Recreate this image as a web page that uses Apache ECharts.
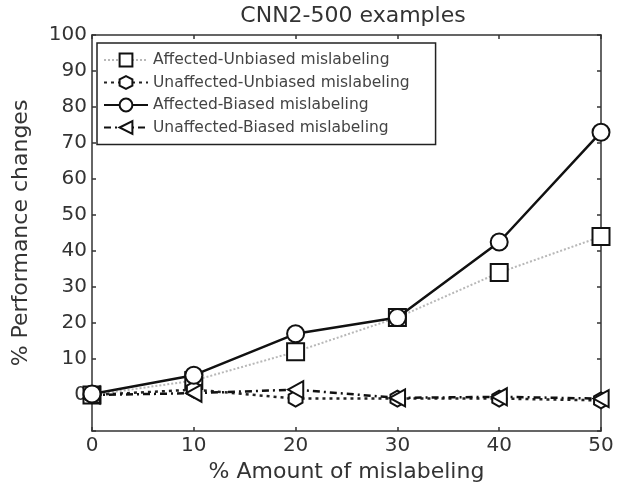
<!DOCTYPE html>
<html>
<head>
<meta charset="utf-8">
<script src="https://cdn.jsdelivr.net/npm/echarts@6/dist/echarts.min.js"></script>
<style>
  html, body { margin: 0; padding: 0; background: #fff; }
  #chart { width: 619px; height: 489px; }
</style>
</head>
<body>
<div id="chart"></div>
<script>
const mislabeling = [0, 10, 20, 30, 40, 50];
const affectedUnbiased = [0, 4, 12, 21.5, 34, 44];
const unaffectedUnbiased = [0, 1.5, -1, -1, -1, -1.5];
const affectedBiased = [0.3, 5.5, 17, 21.5, 42.5, 73];
const unaffectedBiased = [0, 0.5, 1.5, -0.8, -0.5, -1];
const seriesNames = [
  'Affected-Unbiased mislabeling',
  'Unaffected-Unbiased mislabeling',
  'Affected-Biased mislabeling',
  'Unaffected-Biased mislabeling'
];

const font = 'DejaVu Sans, sans-serif';
const hexagon = 'path://M5,0 L9.33,2.5 L9.33,7.5 L5,10 L0.67,7.5 L0.67,2.5 Z';
const triLeft = 'path://M0,5 L9,0 L9,10 Z';

function pairs(vals) {
  return mislabeling.map((x, i) => [x, vals[i]]);
}

const chart = echarts.init(document.getElementById('chart'), null, { renderer: 'canvas' });

const hollow = { color: '#fff', borderColor: '#111', borderWidth: 2 };

const axisCommon = {
  axisLine: { show: true, onZero: false, lineStyle: { color: '#333', width: 1.5 } },
  axisTick: { show: true, inside: true, length: 4, lineStyle: { color: '#333', width: 1.5 } },
  splitLine: { show: false }
};

const option = {
  backgroundColor: '#fff',
  animation: false,
  title: {
    text: 'CNN2-500 examples',
    left: 348,
    textAlign: 'center',
    top: 0,
    textStyle: { fontFamily: font, fontSize: 22, fontWeight: 'normal', color: '#333' }
  },
  legend: {
    orient: 'vertical',
    left: 97,
    top: 43,
    padding: [9, 26, 9, 6],
    itemGap: 6.5,
    itemWidth: 44,
    itemHeight: 16,
    borderColor: '#222',
    borderWidth: 1.5,
    backgroundColor: '#fff',
    data: seriesNames,
    textStyle: { fontFamily: font, fontSize: 15.5, color: '#444' }
  },
  grid: { left: 92, right: 18, top: 35, bottom: 58 },
  xAxis: [
    Object.assign({
      type: 'value', min: 0, max: 50, interval: 10,
      name: '% Amount of mislabeling', nameLocation: 'middle', nameGap: 30,
      nameTextStyle: { fontFamily: font, fontSize: 22, color: '#333' },
      axisLabel: { fontFamily: font, fontSize: 20, color: '#333', margin: 5 }
    }, axisCommon),
    Object.assign({
      type: 'value', min: 0, max: 50, interval: 10, position: 'top',
      axisLabel: { show: false }
    }, axisCommon)
  ],
  yAxis: [
    Object.assign({
      type: 'value', min: -10, max: 100, interval: 10,
      name: '% Performance changes', nameLocation: 'middle', nameGap: 60,
      nameTextStyle: { fontFamily: font, fontSize: 22, color: '#333' },
      axisLabel: {
        fontFamily: font, fontSize: 20, color: '#333', margin: 5,
        formatter: v => (v < 0 ? '' : String(v))
      }
    }, axisCommon),
    Object.assign({
      type: 'value', min: -10, max: 100, interval: 10, position: 'right',
      axisLabel: { show: false }
    }, axisCommon)
  ],
  series: [
    {
      name: seriesNames[0], type: 'line', data: pairs(affectedUnbiased),
      symbol: 'rect', symbolSize: 17, z: 2,
      lineStyle: { color: '#b8b8b8', width: 2, type: 'dotted' },
      itemStyle: hollow
    },
    {
      name: seriesNames[1], type: 'line', data: pairs(unaffectedUnbiased),
      symbol: hexagon, symbolSize: 16, symbolKeepAspect: true, z: 3,
      lineStyle: { color: '#222', width: 2.5, type: [3, 4] },
      itemStyle: hollow
    },
    {
      name: seriesNames[2], type: 'line', data: pairs(affectedBiased),
      symbol: 'circle', symbolSize: 17, z: 5,
      lineStyle: { color: '#111', width: 2.5 },
      itemStyle: hollow
    },
    {
      name: seriesNames[3], type: 'line', data: pairs(unaffectedBiased),
      symbol: triLeft, symbolSize: 17, symbolKeepAspect: true, z: 4,
      lineStyle: { color: '#111', width: 2.5, type: [7, 4, 2, 4] },
      itemStyle: hollow
    }
  ]
};

chart.setOption(option);
</script>
</body>
</html>
